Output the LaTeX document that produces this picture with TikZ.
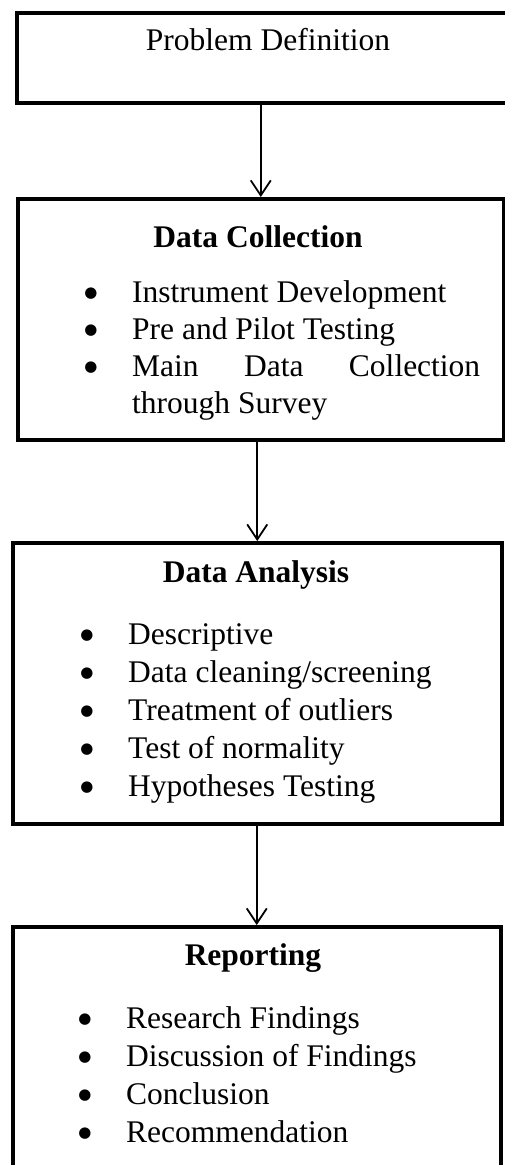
\documentclass[tikz,border=0pt]{standalone}
\usepackage{fontspec}
\setmainfont{Liberation Serif}
\newfontfamily\markfont{DejaVu Sans}
\usetikzlibrary{arrows.meta}
\begin{document}
\begin{tikzpicture}[x=1pt,y=-1pt,
  stage/.style={draw=black, line width=3.5pt, fill=white, inner sep=0pt, anchor=north west},
  flow/.style={line width=1.8pt, -{Straight Barb[length=15pt,width=20pt,line width=1.8pt]}},
  plain/.style={inner sep=0pt, font=\fontsize{31.5}{37}\selectfont},
  title/.style={plain, anchor=base},
  heading/.style={plain, anchor=base, font=\fontsize{31.5}{37}\selectfont\bfseries},
  item/.style={plain, anchor=base west},
  dot/.style={inner sep=0pt, anchor=center, font=\markfont\fontsize{15}{18}\selectfont},
]
\clip (0,0) rectangle (505,1165);
\fill[white] (0,0) rectangle (505,1165);

% stage boxes
\node[stage, minimum width=497pt, minimum height=90pt]  (b1) at (15,11)  {};
\node[stage, minimum width=486pt, minimum height=241pt] (b2) at (16,197) {};
\node[stage, minimum width=489pt, minimum height=281pt] (b3) at (11,541) {};
\node[stage, minimum width=488pt, minimum height=265pt] (b4) at (11,925) {};

% connectors
\draw[flow] (b2.north |- b1.south) -- (b2.north);
\draw[flow] (b3.north |- b2.south) -- (b3.north);
\draw[flow] (b4.north |- b3.south) -- (b4.north);

% stage 1
\node[title] (t1) at (268,50) {Problem Definition};

% stage 2
\node[heading] (h2) at (258,247) {Data Collection};
\node[dot] (d21) at (91,294) {●};
\node[dot] (d22) at (91,331) {●};
\node[dot] (d23) at (91,368) {●};
\node[item] (i21) at (132,302) {Instrument Development};
\node[item] (i22) at (132,339) {Pre and Pilot Testing};
\node[item] (i23) at (132,376) {\hbox to 348pt{Main\hfill Data\hfill Collection}};
\node[item] (i24) at (132,413) {through Survey};

% stage 3
\node[heading] (h3) at (256,582) {Data Analysis};
\node[dot] (d31) at (87,636) {●};
\node[dot] (d32) at (87,674) {●};
\node[dot] (d33) at (87,712) {●};
\node[dot] (d34) at (87,750) {●};
\node[dot] (d35) at (87,788) {●};
\node[item] (i31) at (128,644) {Descriptive};
\node[item] (i32) at (128,682) {Data cleaning/screening};
\node[item] (i33) at (128,720) {Treatment of outliers};
\node[item] (i34) at (128,758) {Test of normality};
\node[item] (i35) at (128,796) {Hypotheses Testing};

% stage 4
\node[heading] (h4) at (253,965) {Reporting};
\node[dot] (d41) at (85,1020) {●};
\node[dot] (d42) at (85,1058) {●};
\node[dot] (d43) at (85,1096) {●};
\node[dot] (d44) at (85,1134) {●};
\node[item] (i41) at (126,1028) {Research Findings};
\node[item] (i42) at (126,1066) {Discussion of Findings};
\node[item] (i43) at (126,1104) {Conclusion};
\node[item] (i44) at (126,1142) {Recommendation};
\end{tikzpicture}
\end{document}
